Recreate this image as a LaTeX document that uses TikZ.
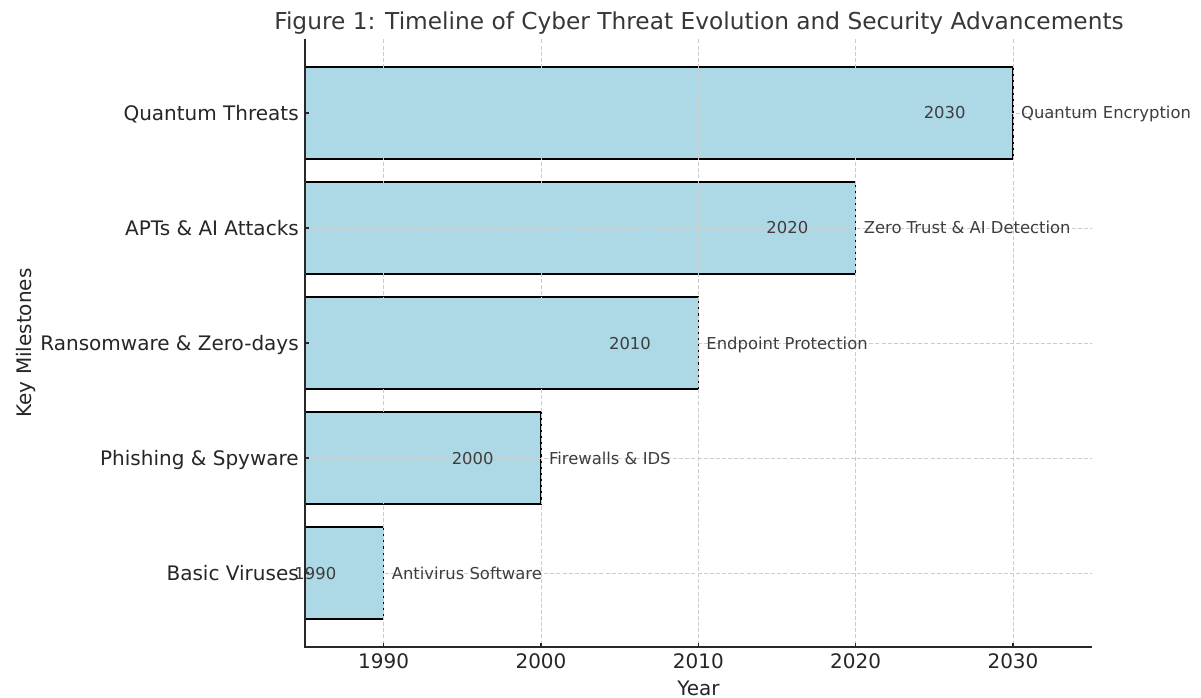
\documentclass[tikz,border=0pt]{standalone}
\usepackage{fontspec}
\setmainfont{DejaVu Sans}
\definecolor{barfill}{RGB}{173,216,230}
\definecolor{txt}{RGB}{38,38,38}
\definecolor{anno}{RGB}{62,62,62}
\definecolor{gridc}{RGB}{204,204,204}
\definecolor{spine}{RGB}{40,40,40}
\tikzset{
  bar/.style={fill=barfill, draw=black, line width=1.1pt},
  gridline/.style={draw=gridc, line width=0.55pt, dash pattern=on 3pt off 1.6pt},
  spineline/.style={draw=spine, line width=1.1pt},
  ticklab/.style={inner sep=0pt, text=txt, font=\fontsize{15}{18}\selectfont},
  annolab/.style={inner sep=0pt, text=anno, font=\fontsize{12.3}{15}\selectfont},
  titlelab/.style={inner sep=0pt, text=txt!92, font=\fontsize{17.45}{20}\selectfont},
}
% horizontal position (px) of a year
\newcommand{\yearx}[1]{\pgfmathsetmacro{\xp}{305+((#1)-1985)*15.733}}
\begin{document}
\begin{tikzpicture}[x=0.75pt,y=-0.75pt]
\useasboundingbox (0,0) rectangle (1201,698);
\fill[white] (0,0) rectangle (1201,698);

% bars, one per milestone
\foreach \i/\yr in {0/1990,1/2000,2/2010,3/2020,4/2030}{
  \pgfmathsetmacro{\yc}{573-115*\i}
  \yearx{\yr}
  \draw[bar] (305,\yc-46) rectangle (\xp,\yc+46);
}

% dashed grid drawn over the bars
\foreach \yr in {1990,2000,2010,2020,2030}{
  \yearx{\yr}
  \draw[gridline] (\xp,39.5) -- (\xp,647);
}
\foreach \i in {0,...,4}{
  \pgfmathsetmacro{\yc}{573-115*\i}
  \draw[gridline] (305,\yc) -- (1091.5,\yc);
}

% axes
\coordinate (origin) at (305,647);
\coordinate (ytop) at (305,39.5);
\coordinate (xend) at (1091.5,647);
\draw[spineline] (ytop) -- (origin) -- (xend);

% x ticks and labels
\foreach \yr in {1990,2000,2010,2020,2030}{
  \yearx{\yr}
  \draw[spineline] (\xp,647) -- (\xp,643);
  \node[ticklab, anchor=base] (xt\yr) at (\xp,668) {\yr};
}

% y ticks, category labels and annotations
\foreach \i/\yr/\threat/\defense in {
    0/1990/Basic Viruses/Antivirus Software,
    1/2000/Phishing \& Spyware/Firewalls \& IDS,
    2/2010/Ransomware \& Zero-days/Endpoint Protection,
    3/2020/APTs \& AI Attacks/Zero Trust \& AI Detection,
    4/2030/Quantum Threats/Quantum Encryption}{
  \pgfmathsetmacro{\yc}{573-115*\i}
  \draw[spineline] (305,\yc) -- (309,\yc);
  \node[ticklab, anchor=base east] (cat\i) at (299,\yc+7.5) {\threat};
  \yearx{\yr-3}
  \node[annolab, anchor=base east] (yr\i) at (\xp,\yc+6) {\yr};
  \yearx{\yr+0.5}
  \node[annolab, anchor=base west] (def\i) at (\xp,\yc+6) {\defense};
}

% titles
\node[titlelab, anchor=base] (title) at (699,29.5)
  {Figure 1: Timeline of Cyber Threat Evolution and Security Advancements};
\node[ticklab, anchor=base] (xlabel) at (698.5,695) {Year};
\node[ticklab, anchor=base, rotate=90] (ylabel) at (31.5,343) {Key Milestones};
\end{tikzpicture}
\end{document}
